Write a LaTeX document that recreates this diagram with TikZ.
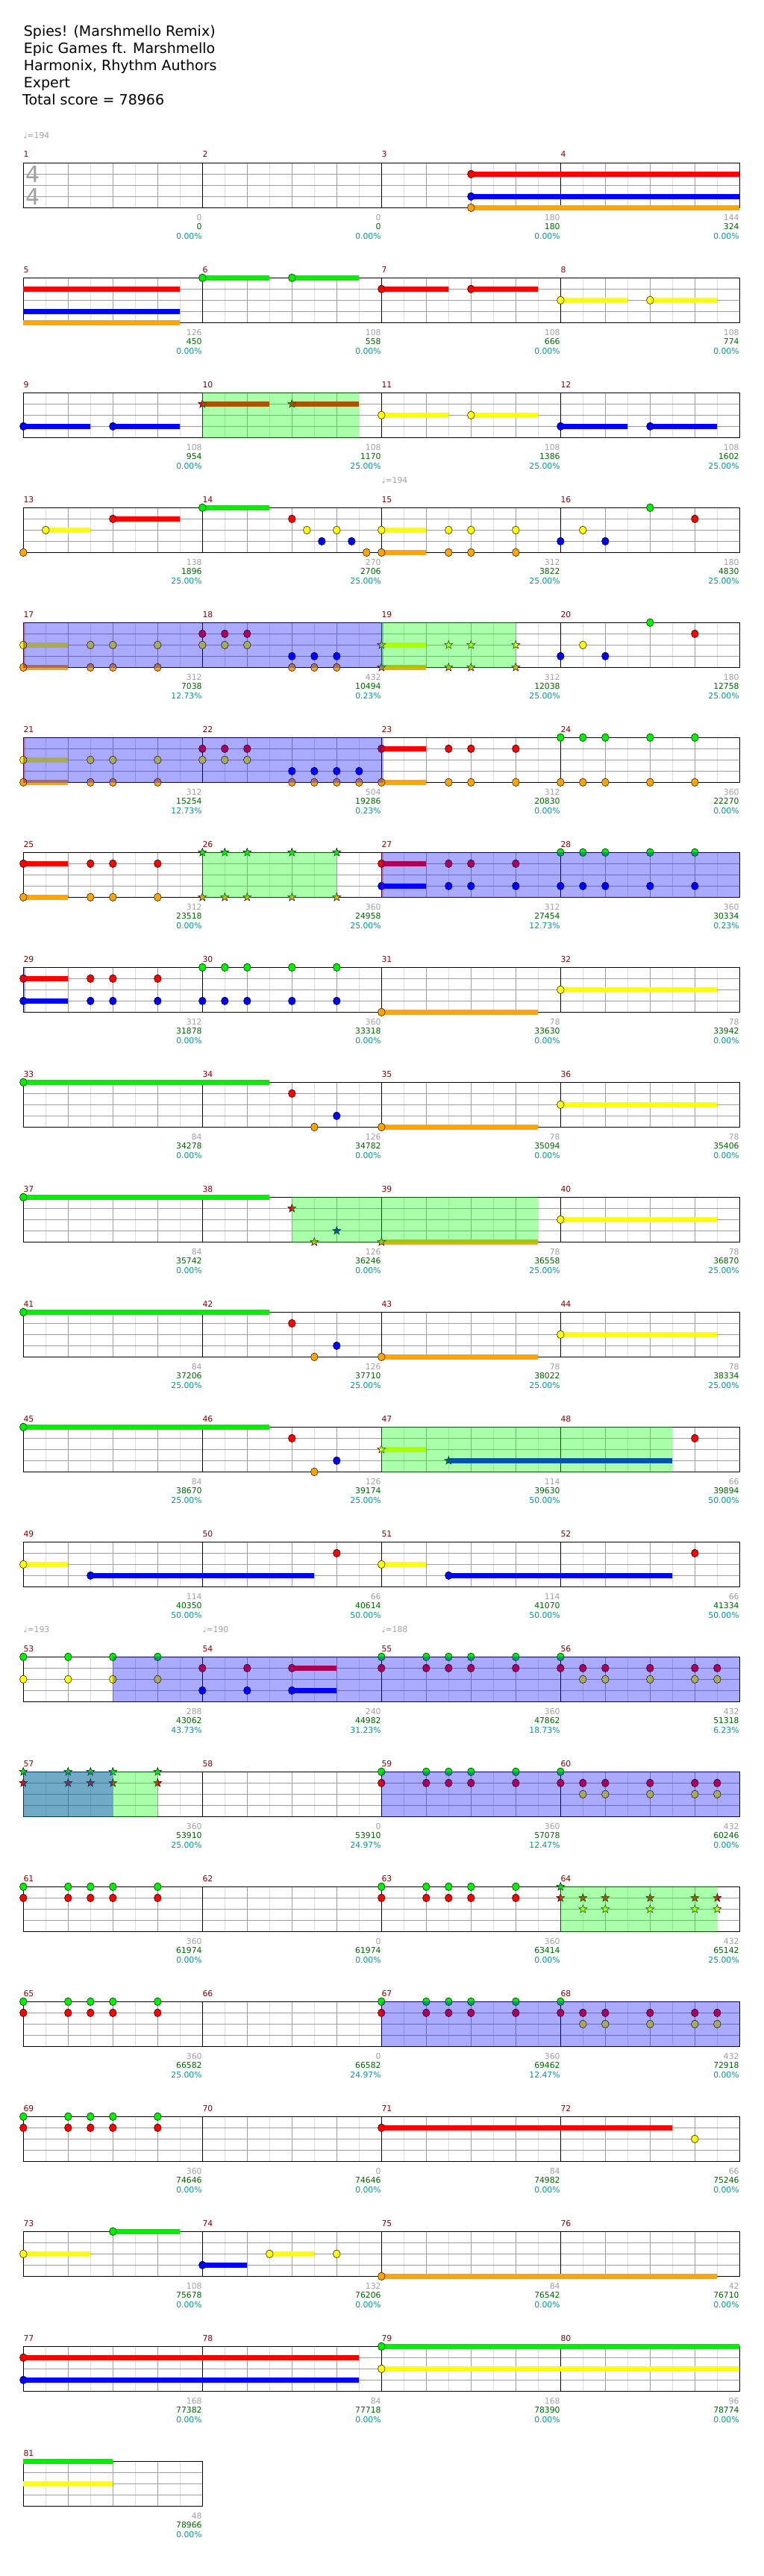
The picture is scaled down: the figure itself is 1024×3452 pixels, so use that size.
\documentclass[tikz,border=0pt]{standalone}
\usepackage{fontspec}
\setmainfont{DejaVu Sans}
\usepackage{tikz}
\usetikzlibrary{positioning}
\definecolor{NoteGreen}{RGB}{0,240,0}
\definecolor{NoteRed}{RGB}{255,0,0}
\definecolor{NoteYellow}{RGB}{255,255,0}
\definecolor{NoteBlue}{RGB}{0,0,255}
\definecolor{NoteOrange}{RGB}{255,165,0}
\definecolor{SPGreen}{RGB}{0,255,0}
\definecolor{LabelRed}{RGB}{139,0,0}
\definecolor{NumGray}{RGB}{160,160,160}
\definecolor{NumGreen}{RGB}{0,100,0}
\definecolor{NumCyan}{RGB}{0,150,150}
\definecolor{GridLite}{RGB}{220,220,220}
\definecolor{GridBeat}{RGB}{160,160,160}
\colorlet{lane0}{NoteGreen}
\colorlet{lane1}{NoteRed}
\colorlet{lane2}{NoteYellow}
\colorlet{lane3}{NoteBlue}
\colorlet{lane4}{NoteOrange}

\tikzset{
  staffrow/.style={xshift=31.3pt, yshift={-(218.3+154*(#1-1))}, x=30pt, y=-15pt},
  eighthline/.style={GridLite, line width=0.8pt},
  beatline/.style={GridBeat, line width=0.8pt},
  laneline/.style={GridBeat, line width=0.9pt},
  barline/.style={black, line width=0.8pt},
  staffedge/.style={black, line width=1.2pt},
  notehead/.style={draw=black, line width=0.5pt},
  smallfont/.style={font=\fontsize{10.8}{12}\selectfont, inner sep=0pt},
  mlabel/.style={smallfont, anchor=base west, text=LabelRed, yshift=7.3pt},
  ptsgray/.style={smallfont, anchor=base east, text=NumGray, xshift=-0.5pt, yshift=-17pt},
  ptsgreen/.style={smallfont, anchor=base east, text=NumGreen, xshift=-0.5pt, yshift=-29.5pt},
  ptscyan/.style={smallfont, anchor=base east, text=NumCyan, xshift=-0.5pt, yshift=-42.4pt},
  tempolabel/.style={smallfont, anchor=base west, text=NumGray, yshift=33pt},
  titleline/.style={anchor=base west, inner sep=0pt, font=\fontsize{19}{23}\selectfont},
  odfill/.style={fill=NoteBlue, fill opacity=0.333},
  spfill/.style={fill=SPGreen, fill opacity=0.333},
  pics/spstar/.style={code={
    \draw[draw=black, line width=0.5pt, fill=#1] (90:5.8pt) -- (126:2.4pt) -- (162:5.8pt)
      -- (198:2.4pt) -- (234:5.8pt) -- (270:2.4pt) -- (306:5.8pt) -- (342:2.4pt)
      -- (18:5.8pt) -- (54:2.4pt) -- cycle;
  }},
}

% staff grid, #1 = length in eighths
\newcommand\grid[1]{%
  \fill[white] (0,0) rectangle (#1,4);
  \foreach \i in {1,...,#1} \draw[eighthline] (\i,0) -- (\i,4);
  \foreach \i in {2,4,...,#1} \draw[beatline] (\i,0) -- (\i,4);
  \foreach \lc in {1,2,3} \draw[laneline] (0,\lc) -- (#1,\lc);
  \draw[staffedge] (0,0) rectangle (#1,4);
}
% measure: slot, number, score, total, percent
\newcommand\meas[5]{%
  \ifnum#1>0 \draw[barline] (8*#1,0) -- (8*#1,4);\fi
  \node[mlabel] (m#2) at (8*#1,0) {#2};
  \node[ptsgray] (s#2) at (8*#1+8,4) {#3};
  \node[ptsgreen] (c#2) at (8*#1+8,4) {#4};
  \node[ptscyan] (q#2) at (8*#1+8,4) {#5\%};
}
\newcommand\tempo[3]{\node[tempolabel] (tempo#3) at (#1,0) {♩=#2};}
\newcommand\sus[1]{\foreach \ps/\lc/\pe in {#1} \draw[color=lane\lc, line width=7pt] (\ps,\lc) -- (\pe,\lc);}
\newcommand\nts[1]{\foreach \ps/\lc in {#1} \draw[notehead, fill=lane\lc] (\ps,\lc) ellipse [x radius=4.8pt, y radius=5.3pt];}
\newcommand\stars[1]{\foreach \ps/\lc in {#1} \pic at (\ps,\lc) {spstar=lane\lc};}
\newcommand\od[2]{\fill[odfill] (#1,-0.04) rectangle (#2,4.04);}
\newcommand\spz[2]{\fill[spfill] (#1,-0.04) rectangle (#2,4.04);}
\newcommand\odmark[1]{\fill[NoteRed, fill opacity=0.3] (#1,-0.04) rectangle ++(0.1,4.08);}

\begin{document}
\begin{tikzpicture}[x=1pt,y=-1pt]
  \path[use as bounding box] (0,0) rectangle (1024,3452);
  \fill[white] (0,0) rectangle (1024,3452);

  \node[titleline] (title1) at (31.7,48.5) {Spies! (Marshmello Remix)};
  \node[titleline] (title2) at (31.7,71.6) {Epic Games ft. Marshmello};
  \node[titleline] (title3) at (31.7,94.7) {Harmonix, Rhythm Authors};
  \node[titleline] (title4) at (31.7,117.8) {Expert};
  \node[titleline] (title5) at (30,140.9) {Total score = 78966};

  % row 1
  \begin{scope}[staffrow=1]
    \grid{32}
    \node[text=NumGray, inner sep=0pt, font=\fontsize{30}{30}\selectfont] (tsig1) at (0.43,1.04) {4};
    \node[text=NumGray, inner sep=0pt, font=\fontsize{30}{30}\selectfont] (tsig2) at (0.43,3.03) {4};
    \meas{0}{1}{0}{0}{0.00}\meas{1}{2}{0}{0}{0.00}\meas{2}{3}{180}{180}{0.00}\meas{3}{4}{144}{324}{0.00}
    \tempo{0}{194}{a}
    \sus{20/1/32, 20/3/32, 20/4/32}
    \nts{20/1, 20/3, 20/4}
  \end{scope}

  % row 2
  \begin{scope}[staffrow=2]
    \grid{32}
    \meas{0}{5}{126}{450}{0.00}\meas{1}{6}{108}{558}{0.00}\meas{2}{7}{108}{666}{0.00}\meas{3}{8}{108}{774}{0.00}
    \sus{0/1/7, 0/3/7, 0/4/7, 8/0/11, 12/0/15, 16/1/19, 20/1/23, 24/2/27, 28/2/31}
    \nts{8/0, 12/0, 16/1, 20/1, 24/2, 28/2}
  \end{scope}

  % row 3
  \begin{scope}[staffrow=3]
    \grid{32}
    \meas{0}{9}{108}{954}{0.00}\meas{1}{10}{108}{1170}{25.00}\meas{2}{11}{108}{1386}{25.00}\meas{3}{12}{108}{1602}{25.00}
    \sus{0/3/3, 4/3/7, 8/1/11, 12/1/15, 16/2/19, 20/2/23, 24/3/27, 28/3/31}
    \nts{0/3, 4/3, 16/2, 20/2, 24/3, 28/3}
    \stars{8/1, 12/1}
    \spz{8}{15}
  \end{scope}

  % row 4
  \begin{scope}[staffrow=4]
    \grid{32}
    \meas{0}{13}{138}{1896}{25.00}\meas{1}{14}{270}{2706}{25.00}\meas{2}{15}{312}{3822}{25.00}\meas{3}{16}{180}{4830}{25.00}
    \tempo{16}{194}{b}
    \sus{1/2/3, 4/1/7, 8/0/11, 16/2/18, 16/4/18}
    \nts{0/4, 1/2, 4/1, 8/0, 12/1, 12.667/2, 13.333/3, 14/2, 14.667/3, 15.333/4, 16/2, 16/4, 19/2, 19/4,
      20/2, 20/4, 22/2, 22/4, 24/3, 25/2, 26/3, 28/0, 30/1}
  \end{scope}

  % row 5
  \begin{scope}[staffrow=5]
    \grid{32}
    \meas{0}{17}{312}{7038}{12.73}\meas{1}{18}{432}{10494}{0.23}\meas{2}{19}{312}{12038}{25.00}\meas{3}{20}{180}{12758}{25.00}
    \sus{0/2/2, 0/4/2, 16/2/18, 16/4/18}
    \nts{0/2, 0/4, 3/2, 3/4, 4/2, 4/4, 6/2, 6/4, 8/1, 8/2, 9/1, 9/2, 10/1, 10/2,
      12/3, 12/4, 13/3, 13/4, 14/3, 14/4, 24/3, 25/2, 26/3, 28/0, 30/1}
    \stars{16/2, 16/4, 19/2, 19/4, 20/2, 20/4, 22/2, 22/4}
    \od{0}{16.1}\odmark{0}
    \spz{16}{22}
  \end{scope}

  % row 6
  \begin{scope}[staffrow=6]
    \grid{32}
    \meas{0}{21}{312}{15254}{12.73}\meas{1}{22}{504}{19286}{0.23}\meas{2}{23}{312}{20830}{0.00}\meas{3}{24}{360}{22270}{0.00}
    \sus{0/2/2, 0/4/2, 16/1/18, 16/4/18}
    \nts{0/2, 0/4, 3/2, 3/4, 4/2, 4/4, 6/2, 6/4, 8/1, 8/2, 9/1, 9/2, 10/1, 10/2,
      12/3, 12/4, 13/3, 13/4, 14/3, 14/4, 15/3, 15/4, 16/1, 16/4, 19/1, 19/4, 20/1, 20/4, 22/1, 22/4,
      24/0, 24/4, 25/0, 25/4, 26/0, 26/4, 28/0, 28/4, 30/0, 30/4}
    \od{0}{16.1}\odmark{0}
  \end{scope}

  % row 7
  \begin{scope}[staffrow=7]
    \grid{32}
    \meas{0}{25}{312}{23518}{0.00}\meas{1}{26}{360}{24958}{25.00}\meas{2}{27}{312}{27454}{12.73}\meas{3}{28}{360}{30334}{0.23}
    \sus{0/1/2, 0/4/2, 16/1/18, 16/3/18}
    \nts{0/1, 0/4, 3/1, 3/4, 4/1, 4/4, 6/1, 6/4, 16/1, 16/3, 19/1, 19/3, 20/1, 20/3, 22/1, 22/3,
      24/0, 24/3, 25/0, 25/3, 26/0, 26/3, 28/0, 28/3, 30/0, 30/3}
    \stars{8/0, 8/4, 9/0, 9/4, 10/0, 10/4, 12/0, 12/4, 14/0, 14/4}
    \spz{8}{14}
    \od{16}{32}\odmark{16}
  \end{scope}

  % row 8
  \begin{scope}[staffrow=8]
    \grid{32}
    \meas{0}{29}{312}{31878}{0.00}\meas{1}{30}{360}{33318}{0.00}\meas{2}{31}{78}{33630}{0.00}\meas{3}{32}{78}{33942}{0.00}
    \sus{0/1/2, 0/3/2, 16/4/23, 24/2/31}
    \nts{0/1, 0/3, 3/1, 3/3, 4/1, 4/3, 6/1, 6/3, 8/0, 8/3, 9/0, 9/3, 10/0, 10/3,
      12/0, 12/3, 14/0, 14/3, 16/4, 24/2}
    \od{0}{0.1}
  \end{scope}

  % row 9
  \begin{scope}[staffrow=9]
    \grid{32}
    \meas{0}{33}{84}{34278}{0.00}\meas{1}{34}{126}{34782}{0.00}\meas{2}{35}{78}{35094}{0.00}\meas{3}{36}{78}{35406}{0.00}
    \sus{0/0/11, 16/4/23, 24/2/31}
    \nts{0/0, 12/1, 13/4, 14/3, 16/4, 24/2}
  \end{scope}

  % row 10
  \begin{scope}[staffrow=10]
    \grid{32}
    \meas{0}{37}{84}{35742}{0.00}\meas{1}{38}{126}{36246}{0.00}\meas{2}{39}{78}{36558}{25.00}\meas{3}{40}{78}{36870}{25.00}
    \sus{0/0/11, 16/4/23, 24/2/31}
    \nts{0/0, 24/2}
    \stars{12/1, 13/4, 14/3, 16/4}
    \spz{12}{23}
  \end{scope}

  % row 11
  \begin{scope}[staffrow=11]
    \grid{32}
    \meas{0}{41}{84}{37206}{25.00}\meas{1}{42}{126}{37710}{25.00}\meas{2}{43}{78}{38022}{25.00}\meas{3}{44}{78}{38334}{25.00}
    \sus{0/0/11, 16/4/23, 24/2/31}
    \nts{0/0, 12/1, 13/4, 14/3, 16/4, 24/2}
  \end{scope}

  % row 12
  \begin{scope}[staffrow=12]
    \grid{32}
    \meas{0}{45}{84}{38670}{25.00}\meas{1}{46}{126}{39174}{25.00}\meas{2}{47}{114}{39630}{50.00}\meas{3}{48}{66}{39894}{50.00}
    \sus{0/0/11, 16/2/18, 19/3/29}
    \nts{0/0, 12/1, 13/4, 14/3, 30/1}
    \stars{16/2, 19/3}
    \spz{16}{29}
  \end{scope}

  % row 13
  \begin{scope}[staffrow=13]
    \grid{32}
    \meas{0}{49}{114}{40350}{50.00}\meas{1}{50}{66}{40614}{50.00}\meas{2}{51}{114}{41070}{50.00}\meas{3}{52}{66}{41334}{50.00}
    \sus{0/2/2, 3/3/13, 16/2/18, 19/3/29}
    \nts{0/2, 3/3, 14/1, 16/2, 19/3, 30/1}
  \end{scope}

  % row 14
  \begin{scope}[staffrow=14]
    \grid{32}
    \meas{0}{53}{288}{43062}{43.73}\meas{1}{54}{240}{44982}{31.23}\meas{2}{55}{360}{47862}{18.73}\meas{3}{56}{432}{51318}{6.23}
    \tempo{0}{193}{c}\tempo{8}{190}{d}\tempo{16}{188}{e}
    \sus{12/1/14, 12/3/14}
    \nts{0/0, 0/2, 2/0, 2/2, 4/0, 4/2, 6/0, 6/2, 8/1, 8/3, 10/1, 10/3, 12/1, 12/3,
      16/0, 16/1, 18/0, 18/1, 19/0, 19/1, 20/0, 20/1, 22/0, 22/1, 24/0, 24/1,
      25/1, 25/2, 26/1, 26/2, 28/1, 28/2, 30/1, 30/2, 31/1, 31/2}
    \od{4}{32}
  \end{scope}

  % row 15
  \begin{scope}[staffrow=15]
    \grid{32}
    \meas{0}{57}{360}{53910}{25.00}\meas{1}{58}{0}{53910}{24.97}\meas{2}{59}{360}{57078}{12.47}\meas{3}{60}{432}{60246}{0.00}
    \stars{0/0, 0/1, 2/0, 2/1, 3/0, 3/1, 4/0, 4/1, 6/0, 6/1}
    \nts{16/0, 16/1, 18/0, 18/1, 19/0, 19/1, 20/0, 20/1, 22/0, 22/1, 24/0, 24/1,
      25/1, 25/2, 26/1, 26/2, 28/1, 28/2, 30/1, 30/2, 31/1, 31/2}
    \spz{0}{6}\od{0}{4}
    \od{16}{32}
  \end{scope}

  % row 16
  \begin{scope}[staffrow=16]
    \grid{32}
    \meas{0}{61}{360}{61974}{0.00}\meas{1}{62}{0}{61974}{0.00}\meas{2}{63}{360}{63414}{0.00}\meas{3}{64}{432}{65142}{25.00}
    \nts{0/0, 0/1, 2/0, 2/1, 3/0, 3/1, 4/0, 4/1, 6/0, 6/1,
      16/0, 16/1, 18/0, 18/1, 19/0, 19/1, 20/0, 20/1, 22/0, 22/1}
    \stars{24/0, 24/1, 25/1, 25/2, 26/1, 26/2, 28/1, 28/2, 30/1, 30/2, 31/1, 31/2}
    \spz{24}{31}
  \end{scope}

  % row 17
  \begin{scope}[staffrow=17]
    \grid{32}
    \meas{0}{65}{360}{66582}{25.00}\meas{1}{66}{0}{66582}{24.97}\meas{2}{67}{360}{69462}{12.47}\meas{3}{68}{432}{72918}{0.00}
    \nts{0/0, 0/1, 2/0, 2/1, 3/0, 3/1, 4/0, 4/1, 6/0, 6/1,
      16/0, 16/1, 18/0, 18/1, 19/0, 19/1, 20/0, 20/1, 22/0, 22/1, 24/0, 24/1,
      25/1, 25/2, 26/1, 26/2, 28/1, 28/2, 30/1, 30/2, 31/1, 31/2}
    \od{16}{32}
  \end{scope}

  % row 18
  \begin{scope}[staffrow=18]
    \grid{32}
    \meas{0}{69}{360}{74646}{0.00}\meas{1}{70}{0}{74646}{0.00}\meas{2}{71}{84}{74982}{0.00}\meas{3}{72}{66}{75246}{0.00}
    \sus{16/1/29}
    \nts{0/0, 0/1, 2/0, 2/1, 3/0, 3/1, 4/0, 4/1, 6/0, 6/1, 16/1, 30/2}
  \end{scope}

  % row 19
  \begin{scope}[staffrow=19]
    \grid{32}
    \meas{0}{73}{108}{75678}{0.00}\meas{1}{74}{132}{76206}{0.00}\meas{2}{75}{84}{76542}{0.00}\meas{3}{76}{42}{76710}{0.00}
    \sus{0/2/3, 4/0/7, 8/3/10, 11/2/13, 16/4/31}
    \nts{0/2, 4/0, 8/3, 11/2, 14/2, 16/4}
  \end{scope}

  % row 20
  \begin{scope}[staffrow=20]
    \grid{32}
    \meas{0}{77}{168}{77382}{0.00}\meas{1}{78}{84}{77718}{0.00}\meas{2}{79}{168}{78390}{0.00}\meas{3}{80}{96}{78774}{0.00}
    \sus{0/1/15, 0/3/15, 16/0/32, 16/2/32}
    \nts{0/1, 0/3, 16/0, 16/2}
  \end{scope}

  % row 21
  \begin{scope}[staffrow=21]
    \grid{8}
    \meas{0}{81}{48}{78966}{0.00}
    \sus{0/0/4, 0/2/4}
  \end{scope}
\end{tikzpicture}
\end{document}
